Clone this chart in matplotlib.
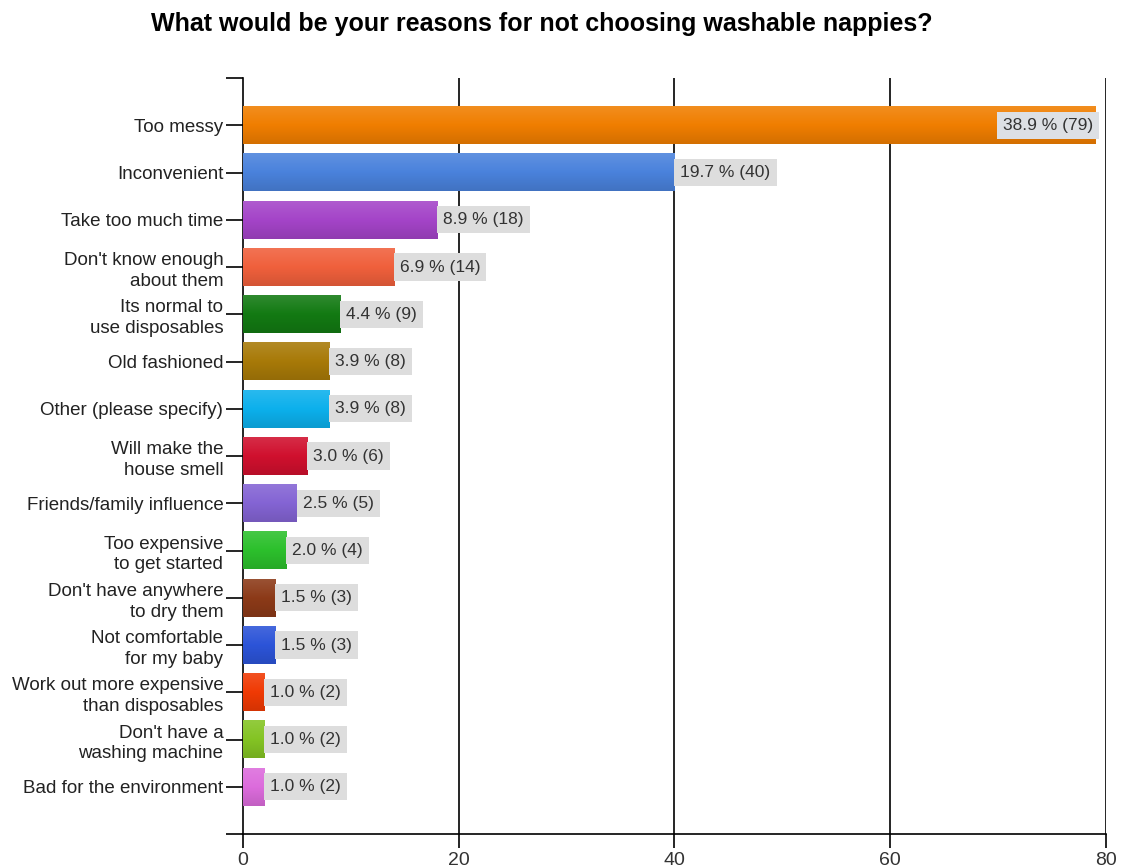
import numpy as np
import matplotlib
matplotlib.use('Agg')
from matplotlib import pyplot as plt
from matplotlib.colors import LinearSegmentedColormap, to_rgb

plt.rcParams['font.family'] = ['Liberation Sans', 'DejaVu Sans']

# Survey answers, top to bottom
reasons = ['Too messy', 'Inconvenient', 'Take too much time',
           "Don't know enough\nabout them", 'Its normal to\nuse disposables',
           'Old fashioned', 'Other (please specify)', 'Will make the\nhouse smell',
           'Friends/family influence', 'Too expensive\nto get started',
           "Don't have anywhere\nto dry them", 'Not comfortable\nfor my baby',
           'Work out more expensive\nthan disposables', "Don't have a\nwashing machine",
           'Bad for the environment']
counts = [79, 40, 18, 14, 9, 8, 8, 6, 5, 4, 3, 3, 2, 2, 2]
percents = [38.9, 19.7, 8.9, 6.9, 4.4, 3.9, 3.9, 3.0, 2.5, 2.0, 1.5, 1.5, 1.0, 1.0, 1.0]
colors = ['#f07e00', '#4a82dc', '#a444c8', '#f0603c', '#137a13', '#a87a08',
          '#0cb0ec', '#d0102e', '#8464d4', '#2cc02c', '#8c3a18', '#2c54d8',
          '#f03a04', '#84c424', '#dc6cdc']
xticks = [0, 20, 40, 60, 80]


def shade(c, f):
    r, g, b = to_rgb(c)
    if f > 1:
        return tuple(min(1, x + (1 - x) * (f - 1)) for x in (r, g, b))
    return tuple(x * f for x in (r, g, b))


fig = plt.figure(figsize=(11.24, 8.67), dpi=100)
ax = fig.add_axes([0.216, 0.038, 0.768, 0.872])

bar_h = 0.8
for i, (n, c) in enumerate(zip(counts, colors)):
    cmap = LinearSegmentedColormap.from_list(
        'g', [shade(c, 1.12), c, shade(c, 0.88)])
    grad = np.linspace(0, 1, 64).reshape(-1, 1)
    ax.imshow(grad, cmap=cmap, aspect='auto', interpolation='bilinear',
              extent=[0, n, i + bar_h / 2, i - bar_h / 2], zorder=3)

    label = f'{percents[i]:.1f} % ({n})'
    if n > 70:
        ax.text(n - 0.2, i, label, ha='right', va='center', fontsize=12.5,
                color='#333333', zorder=5,
                bbox=dict(boxstyle='square,pad=0.35', fc='#dde0e4', ec='none'))
    else:
        ax.text(n + 0.55, i, label, ha='left', va='center', fontsize=12.5,
                color='#333333', zorder=5,
                bbox=dict(boxstyle='square,pad=0.35', fc='#dddddd', ec='none'))

ax.set_xlim(0, 80)
ax.set_ylim(15, -1)

# vertical grid lines at the tick positions
for x in xticks[1:]:
    ax.axvline(x, color='black', lw=1.2, zorder=2)

ax.set_xticks(xticks)
ax.set_xticklabels([str(x) for x in xticks], fontsize=14, color='#333333')
ax.set_yticks(range(-1, 16))
ax.set_yticklabels([''] + reasons + [''], fontsize=13.5, color='#222222',
                   linespacing=1.3)
ax.tick_params(axis='y', length=12, width=1.2, direction='out', pad=2)
ax.tick_params(axis='x', length=10, width=1.2, direction='out', pad=3)

for s in ['top', 'right']:
    ax.spines[s].set_visible(False)
for s in ['left', 'bottom']:
    ax.spines[s].set_linewidth(1.2)

fig.text(0.482, 0.972, 'What would be your reasons for not choosing washable nappies?',
         ha='center', va='center', fontsize=18, fontweight='bold')

fig.savefig('out.png', dpi=100)
